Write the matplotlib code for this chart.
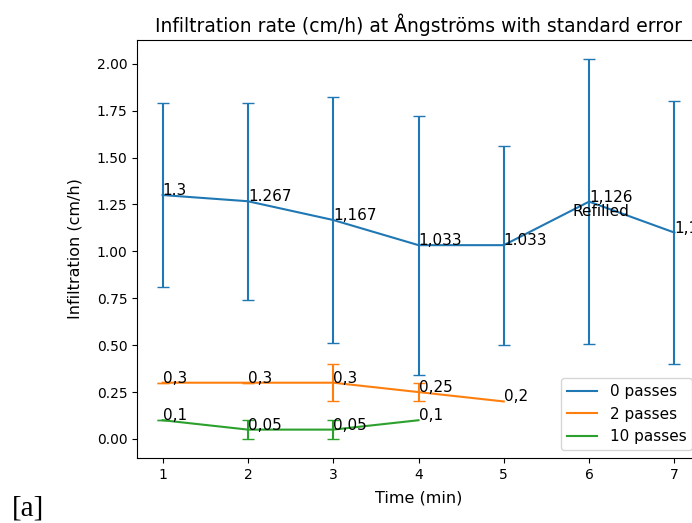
import matplotlib
matplotlib.use('Agg')
import matplotlib.pyplot as plt

time_min = [1, 2, 3, 4, 5, 6, 7]

pass0 = [1.3, 1.267, 1.167, 1.033, 1.033, 1.265, 1.1]
pass0_err = [0.49, 0.525, 0.655, 0.69, 0.53, 0.76, 0.70]
pass0_labels = ['1.3', '1.267', '1,167', '1,033', '1.033', '1,126', '1,1']

time2 = [1, 2, 3, 4, 5]
pass2 = [0.3, 0.3, 0.3, 0.25, 0.2]
pass2_err = [0.0, 0.0, 0.1, 0.05, None]
pass2_labels = ['0,3', '0,3', '0,3', '0,25', '0,2']

time10 = [1, 2, 3, 4]
pass10 = [0.1, 0.05, 0.05, 0.1]
pass10_err = [0.0, 0.05, 0.05, None]
pass10_labels = ['0,1', '0,05', '0,05', '0,1']


def main():
    fig = plt.figure(figsize=(6.92, 5.23), dpi=100)
    ax = fig.add_axes([137 / 692, 65 / 523, 563 / 692, 418 / 523])

    series = [
        (time_min, pass0, pass0_err, pass0_labels, 'C0', '0 passes'),
        (time2, pass2, pass2_err, pass2_labels, 'C1', '2 passes'),
        (time10, pass10, pass10_err, pass10_labels, 'C2', '10 passes'),
    ]
    for xs, ys, errs, labels, color, name in series:
        ax.plot(xs, ys, color=color, label=name)
        ex = [x for x, e in zip(xs, errs) if e is not None]
        ey = [y for y, e in zip(ys, errs) if e is not None]
        ee = [e for e in errs if e is not None]
        ax.errorbar(ex, ey, yerr=ee, fmt='none', ecolor=color, capsize=4)
        for x, y, t in zip(xs, ys, labels):
            ax.text(x, y, t, fontsize=11)

    ax.text(5.8, 1.19, 'Refilled', fontsize=11)

    ax.set_xlabel('Time (min)', fontsize=11.5, labelpad=6)
    ax.set_ylabel('Infiltration (cm/h)', fontsize=11.5, labelpad=10)
    ax.set_title('Infiltration rate (cm/h) at Ångströms with standard error',
                 fontsize=13.5)
    ax.legend(loc='lower right', fontsize=11)

    fig.text(12 / 692, 7 / 523, '[a]', fontsize=21, family='Liberation Serif')

    fig.savefig('out.png', dpi=100)


if __name__ == '__main__':
    main()
